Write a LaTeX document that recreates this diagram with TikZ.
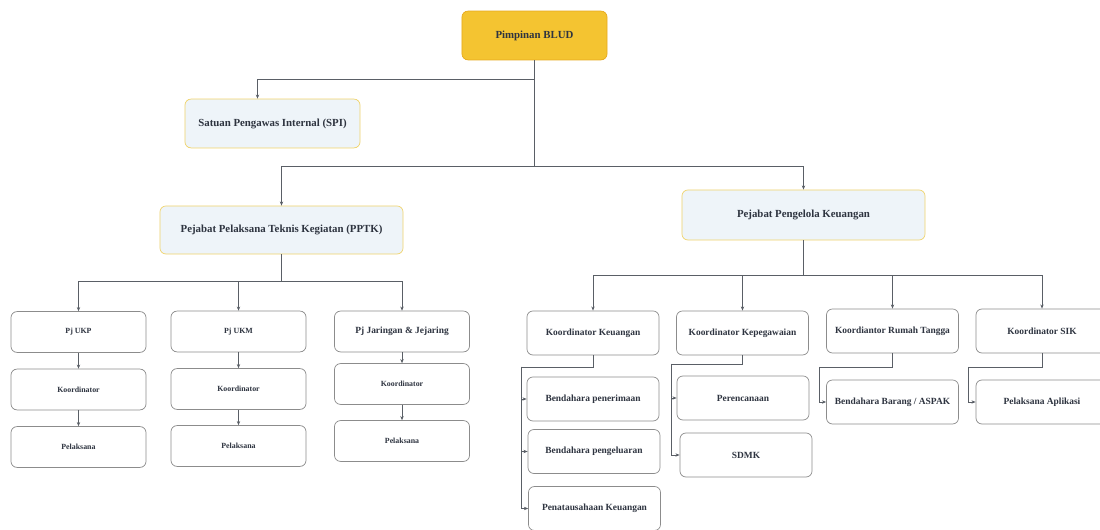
\documentclass[tikz,border=0pt]{standalone}
\usepackage{fontspec}
\setmainfont{Liberation Serif}
\usepackage{tikz}
\usetikzlibrary{arrows.meta}
\definecolor{pimfill}{HTML}{F4C431}
\definecolor{pimline}{HTML}{E6AA1E}
\definecolor{headfill}{HTML}{EEF4F9}
\definecolor{headline}{HTML}{F0D36A}
\definecolor{boxline}{HTML}{8C8C8C}
\definecolor{lineclr}{HTML}{5A5F66}
\definecolor{txt}{HTML}{2E3440}

\begin{document}
\begin{tikzpicture}[x=0.025cm,y=-0.025cm,
  box/.style={draw=boxline,fill=white,rounded corners=1.5mm,line width=0.5pt,
    text=txt,font=\bfseries\fontsize{6.7}{8}\selectfont,
    minimum width=3.3cm,minimum height=1.1cm,inner sep=1pt},
  head/.style={box,draw=headline,fill=headfill,minimum height=1.22cm,
    font=\bfseries\fontsize{7.7}{9}\selectfont},
  small/.style={box,minimum width=3.375cm,minimum height=1.02cm,
    font=\bfseries\fontsize{5.6}{7}\selectfont},
  link/.style={draw=lineclr,line width=0.5pt},
  arr/.style={link,-{Stealth[length=3pt,width=2.4pt]}}]
  \useasboundingbox (0,0) rectangle (1100,530);

  \node[head,fill=pimfill,draw=pimline,minimum width=3.625cm] (pim) at (534.5,35.5) {Pimpinan BLUD};
  \node[head,minimum width=4.375cm] (spi) at (272.5,123.5) {Satuan Pengawas Internal (SPI)};
  \node[head,minimum width=6.075cm,minimum height=1.2cm] (pptk) at (281.5,230) {Pejabat Pelaksana Teknis Kegiatan (PPTK)};
  \node[head,minimum width=6.075cm,minimum height=1.25cm] (pgl) at (803.5,215) {Pejabat Pengelola Keuangan};

  \node[small] (ukp) at (78.5,332) {Pj UKP};
  \node[small] (ukpk) at (78.5,389.5) {Koordinator};
  \node[small] (ukpp) at (78.5,447) {Pelaksana};
  \node[small] (ukm) at (238.5,331.5) {Pj UKM};
  \node[small] (ukmk) at (238.5,389) {Koordinator};
  \node[small] (ukmp) at (238.5,446) {Pelaksana};
  \node[small,font=\bfseries\fontsize{6.7}{8}\selectfont] (jar) at (402,331.5) {Pj Jaringan \& Jejaring};
  \node[small] (jark) at (402,384) {Koordinator};
  \node[small] (jarp) at (402,441) {Pelaksana};

  \node[box] (kk) at (593,333) {Koordinator Keuangan};
  \node[box] (kp) at (742.5,333) {Koordinator Kepegawaian};
  \node[box] (krt) at (892.5,331) {Koordiantor Rumah Tangga};
  \node[box] (ksik) at (1042,331) {Koordinator SIK};
  \node[box] (bp1) at (593,399) {Bendahara penerimaan};
  \node[box] (bp2) at (594,451.5) {Bendahara pengeluaran};
  \node[box] (pk) at (594.5,508.5) {Penatausahaan Keuangan};
  \node[box] (ren) at (743,398) {Perencanaan};
  \node[box] (sdmk) at (746,455) {SDMK};
  \node[box] (bb) at (892.5,402) {Bendahara Barang / ASPAK};
  \node[box] (pa) at (1042,402) {Pelaksana Aplikasi};

  \draw[link] (pim.south) -- (pim.south |- 0,166) coordinate (h1);
  \draw[arr] (pim.south |- 0,79) -| ([xshift=-0.375cm]spi.north);
  \draw[arr] (h1) -| (pptk.north);
  \draw[arr] (h1) -| (pgl.north);

  \draw[link] (pptk.south) -- (pptk.south |- 0,281) coordinate (h2);
  \foreach \n in {ukp,ukm,jar}
    \draw[arr] (h2) -| (\n.north);
  \draw[arr] (ukp) -- (ukpk);
  \draw[arr] (ukpk) -- (ukpp);
  \draw[arr] (ukm) -- (ukmk);
  \draw[arr] (ukmk) -- (ukmp);
  \draw[arr] (jar) -- (jark);
  \draw[arr] (jark) -- (jarp);

  \draw[link] (pgl.south) -- (pgl.south |- 0,275) coordinate (h3);
  \foreach \n in {kk,kp,krt,ksik}
    \draw[arr] (h3) -| (\n.north);

  \coordinate (bk) at (521,367);
  \coordinate (bpg) at (671,364);
  \coordinate (brt) at (819,367);
  \coordinate (bsik) at (968,367);
  \draw[link] (kk.south) |- (bk);
  \draw[link] (kp.south) |- (bpg);
  \draw[link] (krt.south) |- (brt);
  \draw[link] (ksik.south) |- (bsik);
  \foreach \n in {bp1,bp2,pk}
    \draw[arr] (bk) |- (\n.west);
  \foreach \n in {ren,sdmk}
    \draw[arr] (bpg) |- (\n.west);
  \draw[arr] (brt) |- (bb.west);
  \draw[arr] (bsik) |- (pa.west);
\end{tikzpicture}
\end{document}
